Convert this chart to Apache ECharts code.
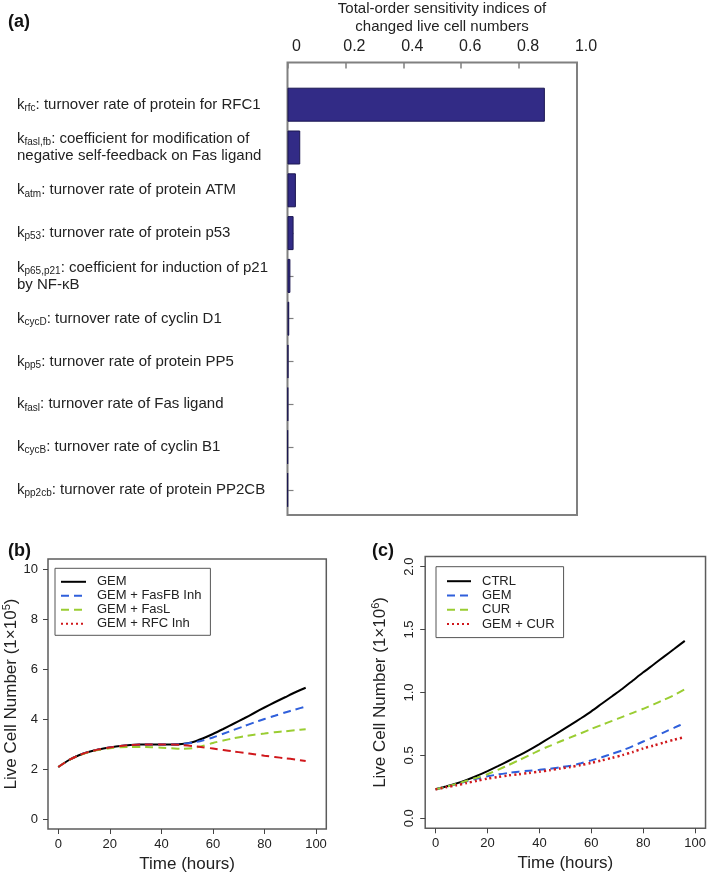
<!DOCTYPE html>
<html>
<head>
<meta charset="utf-8">
<script src="https://cdn.jsdelivr.net/npm/echarts@6/dist/echarts.min.js"></script>
<style>
html,body{margin:0;padding:0;background:#fff;}
#chart{width:709px;height:878px;}
</style>
</head>
<body>
<div id="chart"></div>
<script>
// ---------- Panel (a) data ----------
const paramSubs = ['rfc','fasl,fb','atm','p53','p65,p21','cycD','pp5','fasl','cycB','pp2cb'];
const paramDescs = [
  'turnover rate of protein for RFC1',
  'coefficient for modification of\nnegative self-feedback on Fas ligand',
  'turnover rate of protein ATM',
  'turnover rate of protein p53',
  'coefficient for induction of p21\nby NF-κB',
  'turnover rate of cyclin D1',
  'turnover rate of protein PP5',
  'turnover rate of Fas ligand',
  'turnover rate of cyclin B1',
  'turnover rate of protein PP2CB'
];
const sensitivity = [0.889, 0.044, 0.029, 0.021, 0.010, 0.006, 0.003, 0.002, 0.001, 0.001];
const sensTicks = [0, 0.2, 0.4, 0.6, 0.8, 1.0];

// ---------- Panels (b),(c) shared time ----------
const tHours = [0,4,8,12,16,20,24,28,32,36,40,44,48,52,56,60,64,68,72,76,80,84,88,92,96];
const timeTicks = [0,20,40,60,80,100];

// ---------- Panel (b) data (x 1e5 cells) ----------
const namesB = ['GEM','GEM + FasFB Inh','GEM + FasL','GEM + RFC Inh'];
const bGEM    = [2.08,2.35,2.55,2.69,2.79,2.86,2.92,2.96,2.98,2.98,2.98,2.98,3.00,3.07,3.22,3.40,3.60,3.81,4.02,4.24,4.46,4.67,4.87,5.07,5.25];
const bFasFB  = [2.08,2.35,2.55,2.69,2.79,2.86,2.92,2.96,2.98,2.98,2.98,2.98,3.00,3.05,3.14,3.26,3.41,3.56,3.71,3.86,4.00,4.13,4.26,4.38,4.50];
const bFasL   = [2.08,2.35,2.54,2.68,2.77,2.83,2.87,2.88,2.88,2.87,2.85,2.83,2.81,2.83,2.92,3.04,3.14,3.23,3.31,3.37,3.42,3.47,3.51,3.55,3.59];
const bRFC    = [2.08,2.35,2.55,2.69,2.79,2.86,2.92,2.96,2.98,2.98,2.98,2.98,2.96,2.92,2.87,2.82,2.76,2.70,2.65,2.59,2.53,2.48,2.43,2.38,2.32];
const yTicksB = [0,2,4,6,8,10];

// ---------- Panel (c) data (x 1e6 cells) ----------
const namesC = ['CTRL','GEM','CUR','GEM + CUR'];
const cCTRL   = [0.23,0.252,0.276,0.305,0.338,0.375,0.414,0.455,0.497,0.542,0.59,0.64,0.69,0.742,0.795,0.85,0.91,0.97,1.03,1.095,1.16,1.222,1.285,1.347,1.41];
const cGEM    = [0.23,0.25,0.27,0.293,0.315,0.333,0.348,0.36,0.37,0.378,0.385,0.393,0.405,0.418,0.437,0.46,0.485,0.512,0.54,0.573,0.61,0.645,0.683,0.72,0.758];
const cCUR    = [0.23,0.25,0.273,0.298,0.323,0.35,0.385,0.422,0.46,0.5,0.54,0.575,0.61,0.643,0.676,0.71,0.742,0.774,0.806,0.838,0.87,0.905,0.942,0.98,1.025];
const cGEMCUR = [0.23,0.246,0.262,0.28,0.298,0.315,0.328,0.34,0.35,0.36,0.37,0.382,0.395,0.408,0.423,0.44,0.46,0.48,0.502,0.527,0.555,0.578,0.602,0.625,0.645];
const yTicksC = [0,0.5,1.0,1.5,2.0];

const FONT = 'Liberation Sans, Arial, Helvetica, sans-serif';
const BLACK = '#000000', BLUE = '#2f5fdb', GREEN = '#9acd32', RED = '#d0181c';
const pair = arr => tHours.map((t, i) => [t, arr[i]]);
const C_PREFIX = 'c: ';

const chart = echarts.init(document.getElementById('chart'), null, {renderer: 'canvas'});

function lineSeries(name, data, color, type, xi, width) {
  return {
    type: 'line', name: name, data: pair(data), xAxisIndex: xi, yAxisIndex: xi,
    symbol: 'none', showSymbol: false, smooth: 0.25, silent: true,
    lineStyle: {color: color, width: width || 2, type: type},
    itemStyle: {color: color, opacity: 0}
  };
}

const tickLabelStyle = {fontFamily: FONT, fontSize: 13, color: '#222'};

const option = {
  animation: false,
  backgroundColor: '#ffffff',
  textStyle: {fontFamily: FONT},
  title: [
    {text: '(a)', left: 3, top: 8, textStyle: {fontFamily: FONT, fontSize: 18, fontWeight: 'bold', color: '#111'}},
    {text: '(b)', left: 3, top: 537, textStyle: {fontFamily: FONT, fontSize: 18, fontWeight: 'bold', color: '#111'}},
    {text: '(c)', left: 367, top: 537, textStyle: {fontFamily: FONT, fontSize: 18, fontWeight: 'bold', color: '#111'}},
    {text: 'Total-order sensitivity indices of\nchanged live cell numbers', left: 437, textAlign: 'center', top: -5,
     textStyle: {fontFamily: FONT, fontSize: 15, fontWeight: 'normal', lineHeight: 18, color: '#222'}}
  ],
  grid: [
    {left: 287.5, top: 62.5, width: 289.5, height: 452.5, show: true, borderColor: '#808080', borderWidth: 2, backgroundColor: 'transparent'},
    {left: 287.5, top: 83.3, width: 289.5, height: 428},
    {left: 46.3, top: 559, width: 280, height: 270, show: true, borderColor: '#5c5c5c', borderWidth: 1.5, backgroundColor: 'transparent'},
    {left: 425.2, top: 556.6, width: 282.5, height: 271.7, show: true, borderColor: '#5c5c5c', borderWidth: 1.5, backgroundColor: 'transparent'}
  ],
  xAxis: [
    {gridIndex: 0, type: 'value', min: sensTicks[0], max: sensTicks[sensTicks.length - 1], interval: 0.2, position: 'top',
     axisLine: {show: false, onZero: false}, splitLine: {show: false},
     axisTick: {show: true, inside: true, length: 6, lineStyle: {color: '#808080', width: 1.5}},
     axisLabel: {fontFamily: FONT, fontSize: 16, color: '#222', margin: 8, padding: [0, 0, 0, 18],
                 formatter: v => (v === 0 ? '0' : v.toFixed(1))}},
    {gridIndex: 1, type: 'value', min: 0, max: 1, show: false, axisLine: {onZero: false}},
    {gridIndex: 2, type: 'value', min: -4, max: 104, splitLine: {show: false}, axisLine: {show: false, onZero: false},
     axisTick: {show: true, length: 5, customValues: timeTicks, lineStyle: {color: '#444', width: 1}},
     axisLabel: Object.assign({margin: 9, customValues: timeTicks}, tickLabelStyle),
     name: 'Time (hours)', nameLocation: 'middle', nameGap: 27,
     nameTextStyle: {fontFamily: FONT, fontSize: 17, color: '#222'}},
    {gridIndex: 3, type: 'value', min: -4, max: 104, splitLine: {show: false}, axisLine: {show: false, onZero: false},
     axisTick: {show: true, length: 5, customValues: timeTicks, lineStyle: {color: '#444', width: 1}},
     axisLabel: Object.assign({margin: 9, customValues: timeTicks}, tickLabelStyle),
     name: 'Time (hours)', nameLocation: 'middle', nameGap: 27,
     nameTextStyle: {fontFamily: FONT, fontSize: 17, color: '#222'}}
  ],
  yAxis: [
    {gridIndex: 0, type: 'value', min: 0, max: 1, show: false, axisLine: {onZero: false}},
    {gridIndex: 1, type: 'category', inverse: true, data: paramSubs,
     axisLine: {show: false, onZero: false}, splitLine: {show: false},
     axisTick: {show: true, inside: true, length: 6, alignWithLabel: true, lineStyle: {color: '#808080', width: 1.2}},
     axisLabel: {
       align: 'left', margin: 270.5, color: '#222', fontFamily: FONT,
       formatter: function (v, idx) {
         const lines = paramDescs[idx].split('\n');
         let s = '{k|k}{s|' + paramSubs[idx] + '}{t|: ' + lines[0] + '}';
         for (let i = 1; i < lines.length; i++) s += '\n{t|' + lines[i] + '}';
         return s;
       },
       rich: {
         k: {fontFamily: FONT, fontSize: 15, lineHeight: 17, color: '#222'},
         t: {fontFamily: FONT, fontSize: 15, lineHeight: 17, color: '#222'},
         s: {fontFamily: FONT, fontSize: 10, lineHeight: 8, padding: [6, 0, 0, 0], verticalAlign: 'bottom', color: '#222'}
       }
     }},
    {gridIndex: 2, type: 'value', min: -0.4, max: 10.4, splitLine: {show: false}, axisLine: {show: false, onZero: false},
     axisTick: {show: true, length: 5, customValues: yTicksB, lineStyle: {color: '#444', width: 1}},
     axisLabel: Object.assign({margin: 10, customValues: yTicksB}, tickLabelStyle),
     name: '{a|Live Cell Number (1×10}{s|5}{a|)}', nameLocation: 'middle', nameGap: 27,
     nameTextStyle: {fontFamily: FONT, fontSize: 17, color: '#222',
       rich: {a: {fontFamily: FONT, fontSize: 17, lineHeight: 20, color: '#222'},
              s: {fontFamily: FONT, fontSize: 11, lineHeight: 10, verticalAlign: 'top', color: '#222'}}}},
    {gridIndex: 3, type: 'value', min: -0.08, max: 2.08, splitLine: {show: false}, axisLine: {show: false, onZero: false},
     axisTick: {show: true, length: 5, customValues: yTicksC, lineStyle: {color: '#444', width: 1}},
     axisLabel: Object.assign({margin: 9, rotate: 90, customValues: yTicksC, formatter: v => v.toFixed(1)}, tickLabelStyle),
     name: '{a|Live Cell Number (1×10}{s|6}{a|)}', nameLocation: 'middle', nameGap: 35,
     nameTextStyle: {fontFamily: FONT, fontSize: 17, color: '#222',
       rich: {a: {fontFamily: FONT, fontSize: 17, lineHeight: 20, color: '#222'},
              s: {fontFamily: FONT, fontSize: 11, lineHeight: 10, verticalAlign: 'top', color: '#222'}}}}
  ],
  legend: [
    {orient: 'vertical', left: 55, top: 568.3, padding: [7, 9, 5, 5], itemWidth: 25, itemHeight: 14, itemGap: 1,
     borderColor: '#555', borderWidth: 1, borderRadius: 0, selectedMode: false,
     itemStyle: {opacity: 0},
     textStyle: {fontFamily: FONT, fontSize: 13, color: '#222', padding: [0, 0, 0, 6]},
     data: [namesB[0], namesB[1], namesB[2], {name: namesB[3], lineStyle: {type: [2, 3]}}]},
    {orient: 'vertical', left: 436, top: 566.7, padding: [8, 9, 7, 10], itemWidth: 24, itemHeight: 14, itemGap: 1.3,
     borderColor: '#555', borderWidth: 1, borderRadius: 0, selectedMode: false,
     itemStyle: {opacity: 0},
     textStyle: {fontFamily: FONT, fontSize: 13, color: '#222', padding: [0, 0, 0, 6]},
     formatter: n => n.replace(C_PREFIX, ''),
     data: namesC.map(n => C_PREFIX + n)}
  ],
  series: [
    {type: 'bar', xAxisIndex: 1, yAxisIndex: 1, data: sensitivity, barWidth: 34, silent: true,
     itemStyle: {color: '#322b86', borderColor: '#1a1650', borderWidth: 1}},
    lineSeries(namesB[0], bGEM, BLACK, 'solid', 2),
    lineSeries(namesB[1], bFasFB, BLUE, [8, 5], 2),
    lineSeries(namesB[2], bFasL, GREEN, [8, 5], 2),
    lineSeries(namesB[3], bRFC, RED, [8, 5], 2),
    lineSeries(C_PREFIX + namesC[0], cCTRL, BLACK, 'solid', 3),
    lineSeries(C_PREFIX + namesC[1], cGEM, BLUE, [8, 5], 3),
    lineSeries(C_PREFIX + namesC[2], cCUR, GREEN, [8, 5], 3),
    lineSeries(C_PREFIX + namesC[3], cGEMCUR, RED, [2, 3], 3, 2.5)
  ]
};
chart.setOption(option);
</script>
</body>
</html>
